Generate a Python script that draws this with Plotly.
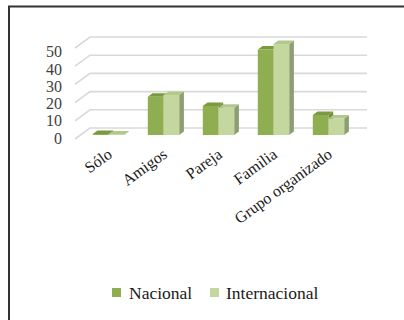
import plotly.graph_objects as go

# Data
categorias = ["Sólo", "Amigos", "Pareja", "Familia", "Grupo organizado"]
series_names = ["Nacional", "Internacional"]
nacional = [0.5, 21, 16, 47, 11]
internacional = [0.3, 22, 15, 50, 9]
y_ticks = [0, 10, 20, 30, 40, 50]

# Colours
NAC_FRONT, NAC_TOP, NAC_SIDE = "#8fae52", "#7b9a3f", "#6f8a3a"
INT_FRONT, INT_TOP, INT_SIDE = "#c4d79e", "#b3c98a", "#8d9e72"
GRID = "#d9d9d9"
FONT = "Liberation Serif, Times New Roman, serif"

# Canvas and plot-area geometry (pixels)
W, H = 404, 320
ML, MR, MT, MB = 66, 34, 30, 179
PX_X = 55.0      # pixels per category step
PX_Y = 1.82      # pixels per value unit
BASE_PX = 135    # pixel row of the bar base
CAT0_PX = 108.5  # pixel column of the first category

plot_w = W - ML - MR
plot_h = H - MT - MB
x_lo = (ML - CAT0_PX) / PX_X
x_range = [x_lo, x_lo + plot_w / PX_X]
y_lo = -((H - MB) - BASE_PX) / PX_Y
y_range = [y_lo, y_lo + plot_h / PX_Y]

def px_x(p):
    return (p - CAT0_PX) / PX_X

def px_y(p):
    return (BASE_PX - p) / PX_Y

def paper_x(p):
    return (p - ML) / plot_w

def paper_y(p):
    return ((H - MB) - p) / plot_h

# 3-D look: bar width and depth offsets in data units
BW = 15.7 / PX_X
DX = 4.7 / PX_X
DY = 3.5 / PX_Y

# Wall / floor geometry for the perspective gridlines
FRONT_X, BACK_X, END_X = px_x(75), px_x(90), px_x(367)
FRONT_OFF, BACK_OFF = px_y(139), px_y(128)

shapes = []

# Gridlines: short slant on the side wall, then the back wall line
for v in y_ticks:
    shapes.append(dict(
        type="path", xref="x", yref="y", layer="below",
        path=f"M{FRONT_X},{v + FRONT_OFF} L{BACK_X},{v + BACK_OFF} L{END_X},{v + BACK_OFF}",
        line=dict(color=GRID, width=1.6),
    ))

def box_faces(left, h, top_col, side_col):
    r = left + BW
    side = f"M{r},0 L{r + DX},{DY} L{r + DX},{h + DY} L{r},{h} Z"
    top = f"M{left},{h} L{r},{h} L{r + DX},{h + DY} L{left + DX},{h + DY} Z"
    return [
        dict(type="path", xref="x", yref="y", layer="below", path=side,
             fillcolor=side_col, line=dict(width=0)),
        dict(type="path", xref="x", yref="y", layer="below", path=top,
             fillcolor=top_col, line=dict(width=0)),
    ]

for i, (n, t) in enumerate(zip(nacional, internacional)):
    shapes += box_faces(i - BW, n, NAC_TOP, NAC_SIDE)
    shapes += box_faces(i, t, INT_TOP, INT_SIDE)

# Frame lines (left and top edges)
shapes.append(dict(type="line", xref="paper", yref="paper",
                   x0=paper_x(9), x1=paper_x(9), y0=paper_y(6.5), y1=paper_y(H + 5),
                   line=dict(color="#333333", width=2)))
shapes.append(dict(type="line", xref="paper", yref="paper",
                   x0=paper_x(8), x1=paper_x(W + 5), y0=paper_y(6.5), y1=paper_y(6.5),
                   line=dict(color="#333333", width=2)))

# Legend: square swatch followed by the series name
annotations = []
legend_items = [(series_names[0], NAC_FRONT, 112, 127),
                (series_names[1], INT_FRONT, 210, 224)]
LEG_Y = 292.5
for name, col, sw_px, txt_px in legend_items:
    shapes.append(dict(type="rect", xref="paper", yref="paper",
                       x0=paper_x(sw_px), x1=paper_x(sw_px + 9),
                       y0=paper_y(LEG_Y + 4.5), y1=paper_y(LEG_Y - 4.5),
                       fillcolor=col, line=dict(width=0)))
    annotations.append(dict(xref="paper", yref="paper",
                            x=paper_x(txt_px), y=paper_y(LEG_Y),
                            xanchor="left", yanchor="middle", showarrow=False,
                            text=name,
                            font=dict(family=FONT, size=17.5, color="#1a1a1a")))

xs = list(range(len(categorias)))

fig = go.Figure()
fig.add_trace(go.Bar(
    x=xs, y=nacional, name=series_names[0], width=BW, offset=-BW,
    marker=dict(color=NAC_FRONT, line=dict(width=0)),
))
fig.add_trace(go.Bar(
    x=xs, y=internacional, name=series_names[1], width=BW, offset=0,
    marker=dict(color=INT_FRONT, line=dict(width=0)),
))

# y labels sit slightly off the gridline fronts
label_vals = [px_y(138 - 1.726 * v) for v in y_ticks]

fig.update_layout(
    width=W, height=H,
    margin=dict(l=ML, r=MR, t=MT, b=MB, pad=0),
    paper_bgcolor="white", plot_bgcolor="white",
    barmode="overlay",
    shapes=shapes,
    annotations=annotations,
    showlegend=False,
    xaxis=dict(
        range=x_range, tickmode="array", tickvals=xs, ticktext=categorias,
        tickangle=-36, showgrid=False, zeroline=False, showline=False, ticks="",
        tickfont=dict(family=FONT, size=16, color="#1a1a1a"),
    ),
    yaxis=dict(
        range=y_range, tickmode="array", tickvals=label_vals,
        ticktext=[str(v) for v in y_ticks],
        showgrid=False, zeroline=False, showline=False, ticks="",
        tickfont=dict(family=FONT, size=16, color="#404040"),
        ticklabelstandoff=3,
    ),
)

fig.write_html("out.html")
